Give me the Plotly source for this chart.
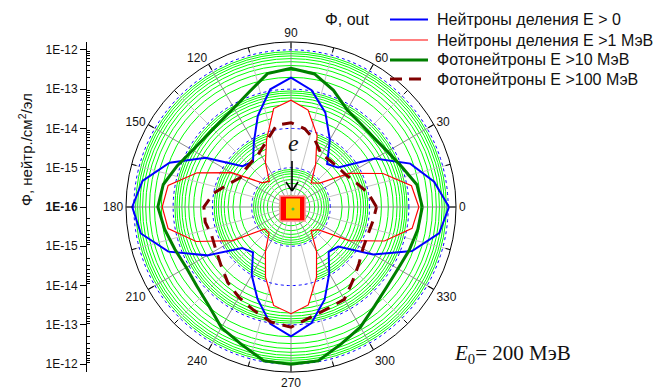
import numpy as np
import plotly.graph_objects as go

W, H = 654, 389

# Emission angle, degrees (0 = right, counterclockwise)
angles = list(range(0, 360, 10))

# Neutron flux at the detector ring, neutrons/cm^2 per electron
flux_fission_all = [
    1.05e-12, 5.0e-13, 1.7e-13, 2.9e-14, 3.7e-15, 2.7e-15, 9.5e-15, 3.6e-14, 1.05e-13,
    1.95e-13, 1.1e-13, 2.95e-14, 7.8e-15, 3.2e-15, 4.1e-15, 3.2e-14, 1.95e-13, 6.9e-13,
    1.1e-12, 7.6e-13, 2.1e-13, 2.9e-14, 4.2e-15, 3.2e-15, 1.0e-14, 3.1e-14, 1.05e-13,
    1.95e-13, 1.0e-13, 3.2e-14, 8.9e-15, 3.1e-15, 3.7e-15, 2.6e-14, 1.9e-13, 6.8e-13]
flux_fission_1mev = [
    1.8e-13, 1.3e-13, 3.1e-14, 5.1e-15, 8.9e-16, 6.3e-16, 1.8e-15, 8.7e-15, 3.2e-14,
    5.2e-14, 3.5e-14, 6.6e-15, 2.0e-15, 7.2e-16, 9.1e-16, 5.6e-15, 3.5e-14, 1.5e-13,
    1.9e-13, 1.5e-13, 3.7e-14, 5.1e-15, 7.4e-16, 7.4e-16, 2.0e-15, 7.9e-15, 3.5e-14,
    5.2e-14, 3.4e-14, 7.9e-15, 2.0e-15, 6.2e-16, 7.9e-16, 5.1e-15, 3.4e-14, 1.35e-13]
flux_photo_10mev = [
    2.2e-13, 1.8e-13, 1.0e-13, 6.8e-14, 5.6e-14, 5.8e-14, 7.2e-14, 1.45e-13, 2.75e-13,
    3.4e-13, 2.8e-13, 1.3e-13, 8.1e-14, 6.6e-14, 6.5e-14, 7.8e-14, 1.2e-13, 2.0e-13,
    2.45e-13, 1.85e-13, 1.4e-13, 1.2e-13, 1.35e-13, 1.85e-13, 3.5e-13, 5.2e-13, 9.5e-13,
    1.0e-12, 9.5e-13, 5.2e-13, 3.4e-13, 2.0e-13, 1.5e-13, 1.4e-13, 1.6e-13, 1.9e-13]
flux_photo_100mev = [
    1.5e-14, 1.0e-14, 6.0e-15, 4.2e-15, 3.7e-15, 3.5e-15, 3.5e-15, 6.3e-15, 1.05e-14,
    1.4e-14, 1.3e-14, 6.3e-15, 4.0e-15, 3.4e-15, 3.2e-15, 3.1e-15, 5.0e-15, 1.0e-14,
    1.65e-14, 1.65e-14, 1.4e-14, 1.6e-14, 2.1e-14, 3.2e-14, 4.5e-14, 6.2e-14, 9.3e-14,
    1.15e-13, 7.1e-14, 5.6e-14, 5.2e-14, 2.8e-14, 1.8e-14, 1.3e-14, 1.2e-14, 1.3e-14]

series_names = [
    "Нейтроны деления E > 0",
    "Нейтроны деления E >1 МэВ",
    "Фотонейтроны E >10 МэВ",
    "Фотонейтроны E >100 МэВ",
]

# Radial scale: log flux, 1E-16 at the centre
LOG_MIN, LOG_MAX = -16.0, -11.8
decades = [1e-15, 1e-14, 1e-13, 1e-12]
minor_rings = [k * 10.0 ** e for e in range(-16, -12) for k in range(2, 10)]

# Angular labels every 30 degrees
ang_major = list(range(0, 360, 30))

# Left scale labels (signed decades above 1E-16)
side_vals = [4, 3, 2, 1, 0, -1, -2, -3, -4]
side_text = ["1E-12", "1E-13", "1E-14", "1E-15", "<b>1E-16</b>",
             "1E-15", "1E-14", "1E-13", "1E-12"]

FONT = "Arial, 'Liberation Sans', sans-serif"
SERIF = "'Times New Roman', 'Liberation Serif', serif"

# Plot geometry in pixels
CX, CY, R = 291.0, 207.0, 165.0
TICK_PX = 5.0


def px(x):
    return x / W


def py(y):
    return 1 - y / H


def closed(a):
    return list(a) + [a[0]]


theta_c = closed(angles)
rmin, rmax = 10 ** LOG_MIN, 10 ** LOG_MAX

fig = go.Figure()

# White lobes inside the red curve along the beam axis (beyond 1E-15)
for lo, hi in [(40, 140), (220, 320)]:
    idx = [i for i, a in enumerate(angles) if lo <= a <= hi]
    r_edge = [max(flux_fission_1mev[i], 1e-15) for i in idx]
    th_edge = [angles[i] for i in idx]
    arc = np.linspace(hi, lo, 60)
    fig.add_trace(go.Scatterpolar(
        r=r_edge + [1e-15] * len(arc), theta=th_edge + list(arc),
        mode="lines", fill="toself", fillcolor="white",
        line=dict(color="white", width=0), showlegend=False, hoverinfo="skip"))

# Angular spokes every 15 degrees
for step0, col in [(0, "#8c8c8c"), (15, "#c4c4c4")]:
    rr, tt = [], []
    for a in range(step0, 360, 30):
        rr += [rmin, rmax, None]
        tt += [a, a, None]
    fig.add_trace(go.Scatterpolar(r=rr, theta=tt, mode="lines",
                                  line=dict(color=col, width=1),
                                  showlegend=False, hoverinfo="skip"))

# Short inner ticks at the intermediate 15-degree positions
tick_in = 10 ** (LOG_MAX - TICK_PX / R * (LOG_MAX - LOG_MIN))
rr, tt = [], []
for a in range(15, 360, 30):
    rr += [tick_in, rmax, None]
    tt += [a, a, None]
fig.add_trace(go.Scatterpolar(r=rr, theta=tt, mode="lines",
                              line=dict(color="black", width=1),
                              showlegend=False, hoverinfo="skip"))

# Decade rings, blue dotted
th_ring = np.linspace(0, 360, 361)
for d in decades:
    fig.add_trace(go.Scatterpolar(r=np.full(th_ring.size, d), theta=th_ring,
                                  mode="lines",
                                  line=dict(color="#0000ff", width=1, dash="dot"),
                                  showlegend=False, hoverinfo="skip"))

# Data curves
styles = [
    dict(color="#0000ff", width=2),
    dict(color="#ff0000", width=1.2),
    dict(color="#007f00", width=3),
    dict(color="#800000", width=3, dash="12px,8px"),
]
for name, vals, st in zip(series_names,
                          [flux_fission_all, flux_fission_1mev,
                           flux_photo_10mev, flux_photo_100mev], styles):
    fig.add_trace(go.Scatterpolar(r=closed(vals), theta=theta_c, mode="lines",
                                  name=name, line=st, showlegend=False))

# Invisible cartesian trace so the side scale is drawn
fig.add_trace(go.Scatter(x=[-1], y=[0], mode="markers", marker=dict(opacity=0),
                         showlegend=False, hoverinfo="skip"))

dom_x = [px(CX - R), px(CX + R)]
dom_y = [py(CY + R), py(CY - R)]
span = LOG_MAX - LOG_MIN

side_minor = []
for d in range(0, 4):
    for k in range(2, 10):
        v = d + np.log10(k)
        side_minor += [v, -v]

fig.update_layout(
    width=W, height=H,
    margin=dict(l=0, r=0, t=0, b=0),
    paper_bgcolor="white", plot_bgcolor="rgba(0,0,0,0)",
    font=dict(family=FONT, size=12, color="#111"),
    showlegend=False,
    polar=dict(
        domain=dict(x=dom_x, y=dom_y),
        bgcolor="white",
        radialaxis=dict(type="log", range=[LOG_MIN, LOG_MAX],
                        tickmode="array", tickvals=minor_rings,
                        showticklabels=False, ticks="", showline=False,
                        gridcolor="#00ff00", gridwidth=1,
                        layer="below traces"),
        angularaxis=dict(rotation=0, direction="counterclockwise",
                         tickmode="array", tickvals=ang_major,
                         ticktext=[str(a) for a in ang_major],
                         ticks="inside", ticklen=TICK_PX + 1, tickcolor="black",
                         showline=True, linecolor="black", linewidth=1,
                         showgrid=False,
                         tickfont=dict(family=FONT, size=12, color="#111")),
    ),
    xaxis=dict(domain=[0, 1], range=[0, 1], visible=False, fixedrange=True),
    yaxis=dict(domain=dom_y, range=[-span, span], anchor="free",
               position=px(86), side="left",
               tickmode="array", tickvals=side_vals, ticktext=side_text,
               ticks="outside", ticklen=6, tickcolor="black",
               showline=True, linecolor="black", linewidth=1,
               showgrid=False, zeroline=False,
               tickfont=dict(family=FONT, size=12, color="#111"),
               minor=dict(tickmode="array", tickvals=side_minor,
                          ticks="inside", ticklen=3, tickcolor="black",
                          showgrid=False)),
)

annotations = [
    dict(x=px(347), y=py(19), text="Φ, out", font=dict(family=FONT, size=16)),
    dict(x=px(25), y=py(150), text="Φ, нейтр./см<sup>2</sup>/эл", textangle=-90,
         font=dict(family=FONT, size=15)),
    dict(x=px(293), y=py(143), text="<i>e</i>", font=dict(family=SERIF, size=24)),
    dict(x=px(512), y=py(354), text="<i>E</i><sub>0</sub>= 200 МэВ",
         font=dict(family=SERIF, size=21)),
]

# Legend drawn by hand: sample line + label per series
leg_rows = [19.5, 40, 60, 79]
shapes = []
for name, st, yy in zip(series_names, styles, leg_rows):
    ln = dict(color=st["color"], width=st["width"])
    if "dash" in st:
        ln["dash"] = "12px,7px"
    shapes.append(dict(type="line", x0=px(390), x1=px(428), y0=py(yy), y1=py(yy),
                       line=ln))
    annotations.append(dict(x=px(435), y=py(yy), text=name, xanchor="left",
                            font=dict(family=FONT, size=16)))

fig.update_layout(annotations=[dict(dict(xanchor="center", yanchor="middle"), **a,
                                    xref="paper", yref="paper", showarrow=False)
                               for a in annotations])

# Beam arrow and target block at the centre
shapes += [
    dict(type="line", x0=px(292), y0=py(161), x1=px(292), y1=py(191),
         line=dict(color="black", width=1.6)),
    dict(type="line", x0=px(286), y0=py(182), x1=px(292), y1=py(191),
         line=dict(color="black", width=1.6)),
    dict(type="line", x0=px(298), y0=py(182), x1=px(292), y1=py(191),
         line=dict(color="black", width=1.6)),
    dict(type="rect", x0=px(280), y0=py(196), x1=px(305), y1=py(221),
         fillcolor="#ff0000", line=dict(color="#ff9090", width=1.5)),
    dict(type="rect", x0=px(286), y0=py(198.5), x1=px(300), y1=py(218.5),
         fillcolor="#ffc800", line=dict(width=0)),
    dict(type="circle", x0=px(291.5), y0=py(207.5), x1=px(294.5), y1=py(210.5),
         fillcolor="#3cc84a", line=dict(width=0)),
]
fig.update_layout(shapes=[dict(s, xref="paper", yref="paper", layer="above")
                          for s in shapes])

fig.write_html("out.html")
